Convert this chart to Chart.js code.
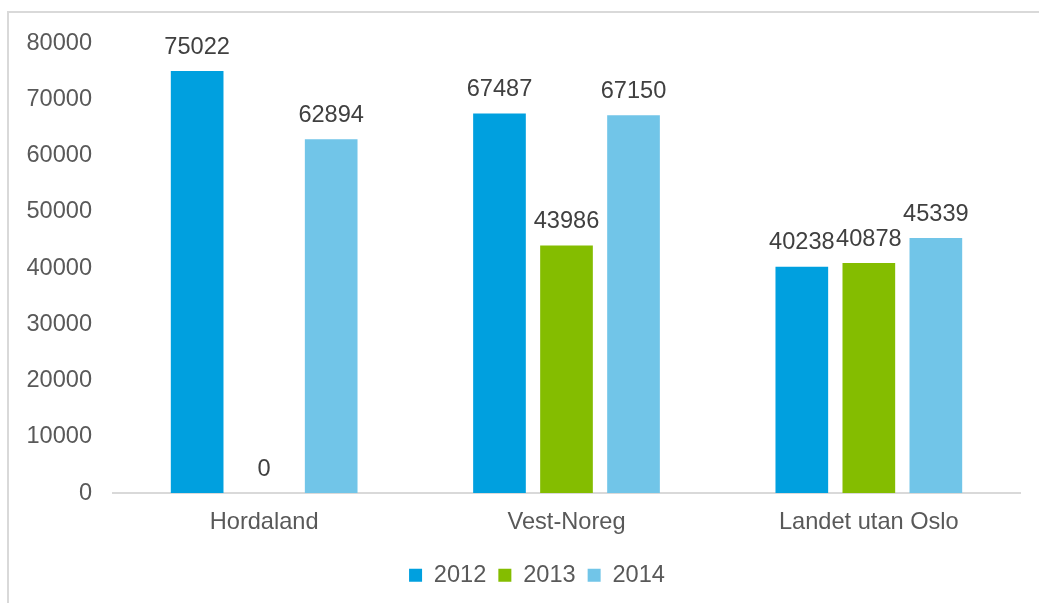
<!DOCTYPE html>
<html>
<head>
<meta charset="utf-8">
<script src="https://cdn.jsdelivr.net/npm/chart.js@4.4.0/dist/chart.umd.min.js"></script>
<style>
  html, body { margin: 0; padding: 0; background: #fff; overflow: hidden; }
  #wrap { position: relative; width: 1039px; height: 603px; }
  #frame { position: absolute; left: 7px; top: 11px; width: 1100px; height: 700px;
           border-left: 2px solid #d9d9d9; border-top: 2px solid #d9d9d9; }
  canvas { position: absolute; left: 0; top: 0; }
</style>
</head>
<body>
<div id="wrap">
  <div id="frame"></div>
  <canvas id="chart" width="1039" height="603"></canvas>
</div>
<script>
const categories = ['Hordaland', 'Vest-Noreg', 'Landet utan Oslo'];
const years = ['2012', '2013', '2014'];
const values2012 = [75022, 67487, 40238];
const values2013 = [0, 43986, 40878];
const values2014 = [62894, 67150, 45339];
const yTicks = [0, 10000, 20000, 30000, 40000, 50000, 60000, 70000, 80000];

const colors = ['#00A0DF', '#84BD00', '#71C5E8'];
const font = { family: "'Liberation Sans', Arial, sans-serif", size: 23.6 };

// value labels above each bar
const barLabels = {
    id: 'barLabels',
    afterDatasetsDraw(chart) {
        const ctx = chart.ctx;
        ctx.save();
        ctx.font = `${font.size}px ${font.family}`;
        ctx.fillStyle = '#404040';
        ctx.textAlign = 'center';
        ctx.textBaseline = 'middle';
        chart.data.datasets.forEach((ds, i) => {
            chart.getDatasetMeta(i).data.forEach((bar, j) => {
                ctx.fillText(String(ds.data[j]), bar.x, bar.y - 24);
            });
        });
        ctx.restore();
    }
};

// nudge legend so it centres like the original
const legendShift = {
    id: 'legendShift',
    afterLayout(chart) {
        chart.legend.left += 17;
        chart.legend.right += 17;
    }
};

const series = [values2012, values2013, values2014];

new Chart(document.getElementById('chart'), {
    type: 'bar',
    data: {
        labels: categories,
        datasets: years.map((y, i) => ({
            label: y,
            data: series[i],
            backgroundColor: colors[i],
            categoryPercentage: 0.665,
            barPercentage: 0.786,
        })),
    },
    options: {
        responsive: false,
        animation: false,
        layout: { padding: { left: 20, right: 19, top: 43, bottom: 6 } },
        plugins: {
            legend: {
                position: 'bottom',
                labels: {
                    color: '#595959',
                    font: font,
                    boxWidth: 13,
                    boxHeight: 13,
                    padding: 12,
                },
            },
            tooltip: { enabled: false },
        },
        scales: {
            x: {
                grid: { display: false, drawTicks: false },
                border: { color: '#d9d9d9', width: 2 },
                ticks: { color: '#595959', font: font, padding: 15 },
            },
            y: {
                min: 0,
                max: 80000,
                afterBuildTicks: s => { s.ticks = yTicks.map(v => ({ value: v })); },
                afterFit: s => { s.width = 93; },
                grid: { display: false, drawTicks: false },
                border: { display: false },
                ticks: { color: '#595959', font: font, padding: 21, callback: v => String(v) },
            },
        },
    },
    plugins: [barLabels, legendShift],
});
</script>
</body>
</html>
